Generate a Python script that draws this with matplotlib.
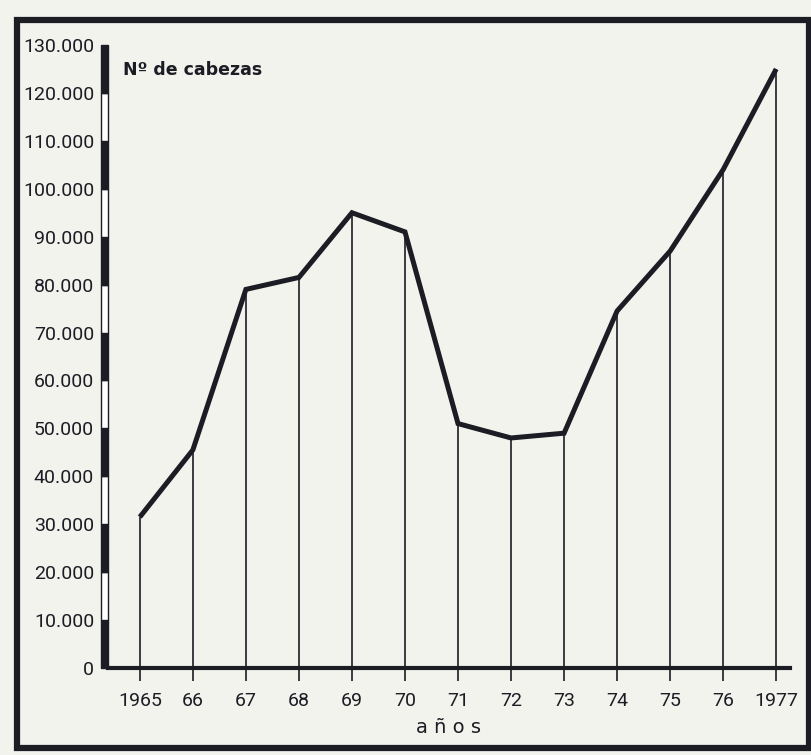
import matplotlib.pyplot as plt
from matplotlib.patches import Rectangle

years = [1965, 1966, 1967, 1968, 1969, 1970, 1971, 1972, 1973, 1974, 1975, 1976, 1977]
year_labels = ['1965', '66', '67', '68', '69', '70', '71', '72', '73', '74', '75', '76', '1977']
cabezas = [31500, 45500, 79000, 81500, 95000, 91000, 51000, 48000, 49000, 74500, 87000, 104000, 125000]
y_ticks = list(range(0, 130001, 10000))
y_labels = ['0'] + ['%d.000' % (v // 1000) for v in y_ticks[1:]]

ink = '#1c1c24'
paper = '#f3f3ee'
font = ['Roboto', 'DejaVu Sans']

fig = plt.figure(figsize=(8.12, 7.55), dpi=100, facecolor=paper)
ax = fig.add_axes([108/812, 1-668/755, 682/812, 623/755])
ax.set_facecolor(paper)

# outer frame
fig.patches.append(Rectangle((17/812, 1-748/755), 792/812, 728/755, transform=fig.transFigure,
                             fill=False, edgecolor=ink, linewidth=4.5))

# drop lines + line
ax.vlines(years, 0, cabezas, color=ink, linewidth=1.2)
ax.plot(years, cabezas, color=ink, linewidth=3.6, solid_joinstyle='miter', solid_capstyle='butt')

ax.set_xlim(1964.40, 1977.26)
ax.set_ylim(0, 130000)

# scale-bar style y axis: alternating black/white blocks
w = 7 / 682
for i, v in enumerate(y_ticks[:-1]):
    ax.add_patch(Rectangle((-w, v), w, 10000, transform=ax.get_yaxis_transform(),
                           facecolor=ink if i % 2 == 0 else 'white', edgecolor=ink,
                           linewidth=1.0, clip_on=False))

for s in ['top', 'right', 'left']:
    ax.spines[s].set_visible(False)
ax.spines['bottom'].set_linewidth(3)
ax.spines['bottom'].set_color(ink)

ax.set_xticks(years)
ax.set_xticklabels(year_labels, fontsize=14, color=ink, family=font)
ax.tick_params(axis='x', direction='out', length=9, width=1.2, color=ink, pad=8)
ax.set_yticks(y_ticks)
ax.set_yticklabels(y_labels, fontsize=14, color=ink, family=font)
ax.tick_params(axis='y', length=0, pad=10)

ax.set_xlabel('a ñ o s', fontsize=14, color=ink, labelpad=6)
ax.text(0.022, 0.975, 'Nº de cabezas', transform=ax.transAxes, fontsize=12.5,
        fontweight='bold', color=ink, va='top', ha='left')

fig.savefig('out.png', dpi=100, facecolor=paper)
